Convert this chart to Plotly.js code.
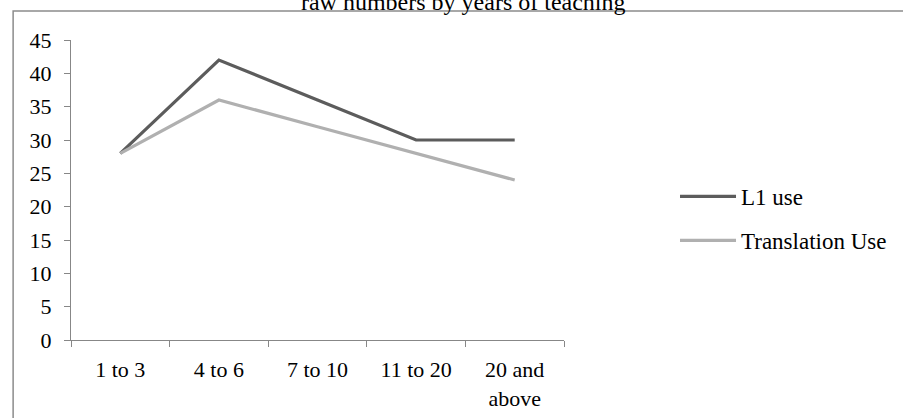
<!DOCTYPE html>
<html>
<head>
<meta charset="utf-8">
<script src="https://cdn.plot.ly/plotly-3.0.1.min.js"></script>
<style>
  html, body { margin: 0; padding: 0; background: #fff; }
  #chart { width: 903px; height: 418px; }
</style>
</head>
<body>
<div id="chart"></div>
<script>
// Years-of-teaching groups and counts per series
const categories = ['1 to 3', '4 to 6', '7 to 10', '11 to 20', '20 and<br>above'];
const l1Use = [28, 42, 36, 30, 30];
const translationUse = [28, 36, 32, 28, 24];
const yTicks = [0, 5, 10, 15, 20, 25, 30, 35, 40, 45];

const serif = 'Liberation Serif, Times New Roman, serif';

const traces = [
  {
    x: categories, y: l1Use, name: 'L1 use', type: 'scatter', mode: 'lines',
    legendgroup: 'a',
    line: { color: '#5c5c5c', width: 3.2 }
  },
  {
    x: categories, y: translationUse, name: 'Translation Use', type: 'scatter', mode: 'lines',
    legendgroup: 'b',
    line: { color: '#b0b0b0', width: 3.2 }
  }
];

const layout = {
  width: 903, height: 418,
  margin: { l: 71, r: 338, t: 40, b: 78 },
  paper_bgcolor: '#fff', plot_bgcolor: '#fff',
  font: { family: serif, size: 22, color: '#000' },
  title: {
    text: 'raw numbers by years of teaching',
    font: { family: serif, size: 24, color: '#000' },
    x: 0.513, xanchor: 'center', xref: 'container',
    y: 0.9965, yanchor: 'middle', yref: 'container'
  },
  xaxis: {
    type: 'category', range: [-0.5, 4.5],
    showline: true, linecolor: '#878787', linewidth: 1,
    ticks: 'outside', tickson: 'boundaries', ticklen: 6, tickcolor: '#878787',
    showgrid: false, zeroline: false,
    tickfont: { family: serif, size: 22, color: '#000' },
    ticklabelstandoff: 10,
    fixedrange: true
  },
  yaxis: {
    range: [0, 45], tickvals: yTicks,
    showline: true, linecolor: '#878787', linewidth: 1,
    ticks: 'outside', ticklen: 6, tickcolor: '#878787',
    showgrid: false, zeroline: false,
    tickfont: { family: serif, size: 22, color: '#000' },
    ticklabelstandoff: 8,
    fixedrange: true
  },
  legend: {
    x: 1.2227, xanchor: 'left', y: 0.405, yanchor: 'middle',
    font: { family: serif, size: 23, color: '#000' },
    tracegroupgap: 11, itemwidth: 56,
    bgcolor: 'rgba(0,0,0,0)'
  },
  shapes: [
    {
      type: 'rect', xref: 'paper', yref: 'paper',
      x0: -0.1174, x1: 1.75, y0: -0.3, y1: 1.0967,
      line: { color: '#8c8c8c', width: 1.5 }, fillcolor: 'rgba(0,0,0,0)'
    }
  ]
};

Plotly.newPlot('chart', traces, layout, { displayModeBar: false, staticPlot: true });
</script>
</body>
</html>
